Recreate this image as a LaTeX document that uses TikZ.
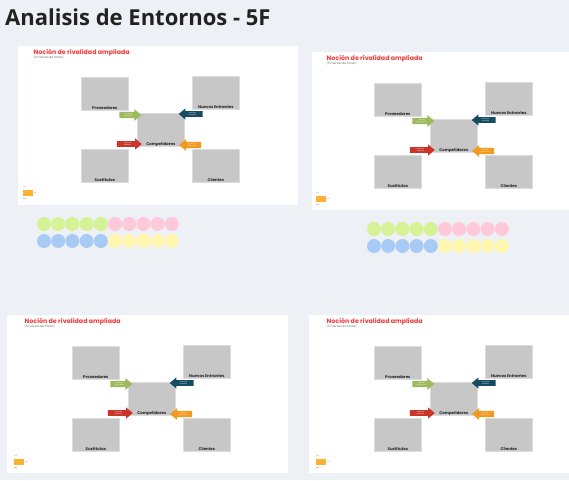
\documentclass[tikz,border=0pt]{standalone}
\usepackage{fontspec}
\setmainfont{Poppins}
\newfontfamily\titlefont{Open Sans}
\usetikzlibrary{shapes.arrows}
\definecolor{bg}{HTML}{EDF0F4}
\definecolor{boxgray}{HTML}{C7C7C8}
\definecolor{boxedge}{HTML}{DDDDDD}
\definecolor{ttlred}{HTML}{EE3B3B}
\definecolor{agreen}{HTML}{9DBB5E}
\definecolor{ablue}{HTML}{174B63}
\definecolor{ared}{HTML}{C9352A}
\definecolor{aorange}{HTML}{F29A1F}
\definecolor{legor}{HTML}{FBB232}
\definecolor{cgreen}{HTML}{D5F294}
\definecolor{cpink}{HTML}{FFC9DA}
\definecolor{cblue}{HTML}{A7CBF4}
\definecolor{cyellow}{HTML}{FFF6B0}
\definecolor{titlegray}{HTML}{222222}
\tikzset{
  panelbg/.style={fill=white, draw=none},
  forcebox/.style={fill=boxgray, draw=boxedge, line width=0.6pt, minimum width=47pt, minimum height=33pt, inner sep=0pt, anchor=north west},
  boxlabel/.style={font=\fontsize{3.9}{4}\selectfont\bfseries, text=black!85, anchor=base, inner sep=0pt},
  forcearrow/.style={single arrow, single arrow head extend=2.6pt, single arrow tip angle=80, inner xsep=0pt, inner ysep=1.4pt, text=white, font=\fontsize{1.5}{1.7}\selectfont, align=center},
  paneltitle/.style={font=\fontsize{6.3}{7}\selectfont\bfseries, text=ttlred, anchor=west, inner sep=0pt},
  panelsub/.style={font=\fontsize{2.9}{3}\selectfont, text=black!60, anchor=west, inner sep=0pt},
  tinytext/.style={font=\fontsize{1.6}{1.8}\selectfont, text=black!60, anchor=west, inner sep=0pt},
  dot/.style={radius=7pt}
}
\newcommand\fuerzas[3]{%
\begin{scope}[shift={(#2,#3)}]
  \node[paneltitle] (#1ttl) at (-47.5,-24) {Noción de rivalidad ampliada};
  \node[panelsub] (#1sub) at (-47.5,-19.3) {(5 Fuerzas de Porter)};
  \node[forcebox] (#1prov) at (0,0) {};
  \node[forcebox] (#1nuev) at (111,-1) {};
  \node[forcebox] (#1comp) at (56,36) {};
  \node[forcebox] (#1sust) at (0,72) {};
  \node[forcebox] (#1clie) at (111,72) {};
  \node[boxlabel] (#1lprov) at ([yshift=1.6pt]#1prov.south) {Proveedores};
  \node[boxlabel] (#1lnuev) at ([yshift=1.6pt]#1nuev.south) {Nuevos Entrantes};
  \node[boxlabel] (#1lcomp) at ([yshift=1.6pt]#1comp.south) {Competidores};
  \node[boxlabel] (#1lsust) at ([yshift=1.6pt]#1sust.south) {Sustitutos};
  \node[boxlabel] (#1lclie) at ([yshift=1.6pt]#1clie.south) {Clientes};
  \node[forcearrow, fill=agreen, minimum height=22pt] (#1aprov) at (47.5,38) {Poder de\\negociación};
  \node[forcearrow, fill=ablue, minimum height=24pt, shape border rotate=180] (#1anuev) at (111.5,37) {Amenaza\\entrantes};
  \node[forcearrow, fill=ared, minimum height=25pt] (#1asust) at (46.5,67) {Amenaza\\sustitutos};
  \node[forcearrow, fill=aorange, minimum height=22pt, shape border rotate=180] (#1aclie) at (111,68) {Poder de\\negociación};
  \node[tinytext] (#1leg1) at (-58,110) {2.1\%};
  \node[fill=legor, minimum width=9.5pt, minimum height=6pt, inner sep=0pt, anchor=north west] (#1legbox) at (-58,113) {};
  \node[tinytext] (#1leg2) at ([xshift=1pt]#1legbox.east) {4\% -};
  \node[tinytext] (#1leg3) at (-58,122.5) {Rep};
\end{scope}}
\newcommand\dotrows[2]{%
\begin{scope}[shift={(#1,#2)}]
  \foreach \i in {0,...,4} {\fill[cgreen] (\i*14.2,0) circle[dot];}
  \foreach \i in {5,...,9} {\fill[cpink] (\i*14.2,0) circle[dot];}
  \foreach \i in {0,...,4} {\fill[cblue] (\i*14.2,17) circle[dot];}
  \foreach \i in {5,...,9} {\fill[cyellow] (\i*14.2,17) circle[dot];}
\end{scope}}
\begin{document}
\begin{tikzpicture}[x=1pt,y=-1pt]
  \useasboundingbox (0,0) rectangle (569,480);
  \fill[bg] (0,0) rectangle (569,480);
  \node[font=\titlefont\fontsize{22}{24}\selectfont\bfseries, text=titlegray, anchor=base west, inner sep=0pt] (title) at (5,25) {Analisis de Entornos - 5F};
  % panels
  \fill[panelbg] (18,46) rectangle (298,205);
  \fill[panelbg] (312,52) rectangle (569,210);
  \fill[panelbg] (7,315) rectangle (288,473);
  \fill[panelbg] (309,315) rectangle (569,473);
  \fuerzas{a}{81}{77}
  \fuerzas{b}{374}{83}
  \fuerzas{c}{72}{346}
  \fuerzas{d}{374}{346}
  \dotrows{44}{224}
  \dotrows{374}{229}
\end{tikzpicture}
\end{document}
